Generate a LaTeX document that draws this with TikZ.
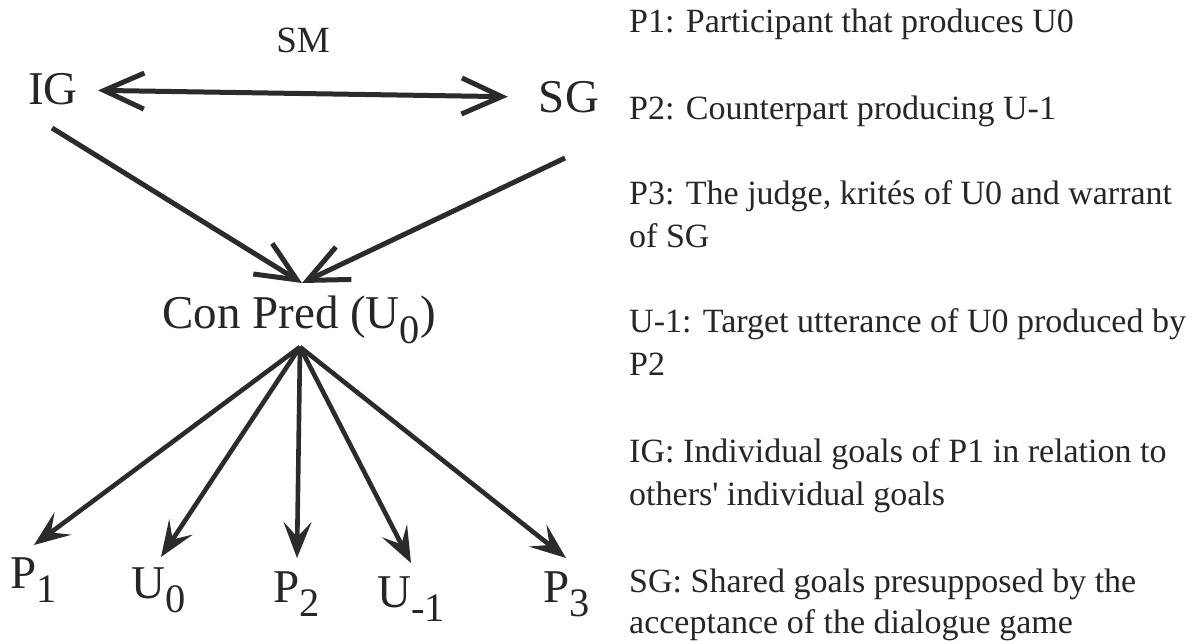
\documentclass[tikz,border=0pt]{standalone}
\usepackage{fontspec}
\usepackage{graphicx}
\setmainfont{Liberation Serif}
\usetikzlibrary{arrows.meta}
\definecolor{ink}{HTML}{262626}
\definecolor{lineink}{HTML}{2B2B2B}
\newcommand{\lowsub}[1]{\raisebox{-0.31em}{\scalebox{0.86}{#1}}}
\begin{document}
\begin{tikzpicture}[x=1pt,y=-1pt,
  lbl/.style={inner sep=0pt, anchor=base, text=ink, font=\fontsize{47}{56}\selectfont},
  smlbl/.style={inner sep=0pt, anchor=base, text=ink, font=\fontsize{37}{44}\selectfont},
  note/.style={inner sep=0pt, anchor=base west, text=ink, font=\fontsize{34}{43}\selectfont},
  upline/.style={draw=lineink, line width=5pt, -{Straight Barb[length=40pt,width=36pt]}},
  dblline/.style={draw=lineink, line width=5pt, {Straight Barb[length=40pt,width=36pt]}-{Straight Barb[length=40pt,width=36pt]}},
  downline/.style={draw=lineink, line width=4.6pt, -{Stealth[length=36pt,width=28pt,inset=15pt]}}
]
\useasboundingbox (0,0) rectangle (1200,644);
\fill[white] (0,0) rectangle (1200,644);

% left diagram labels
\node[smlbl] (SM) at (303,53) {SM};
\node[lbl] (IG) at (53,105) {IG};
\node[lbl] (SG) at (569,113) {SG};
\node[lbl] (con) at (299,329) {Con Pred (U\lowsub{0})};
\node[lbl] (P1) at (34,588) {P\lowsub{1}};
\node[lbl] (U0) at (159,598) {U\lowsub{0}};
\node[lbl] (P2) at (297,602) {P\lowsub{2}};
\node[lbl] (Um1) at (411,607) {U\lowsub{-1}};
\node[lbl] (P3) at (567,602) {P\lowsub{3}};

% connector end points
\coordinate (igout) at (52,128);
\coordinate (sgout) at (565,158);
\coordinate (conin) at (302,283);
\coordinate (conout) at (300,347);
\coordinate (p1in) at (34,545);
\coordinate (u0in) at (161,557);
\coordinate (p2in) at (297,558);
\coordinate (um1in) at (411,563);
\coordinate (p3in) at (566,558);

% connectors
\draw[dblline, shorten <=20pt, shorten >=31pt] (IG) -- (SG);
\draw[upline] (igout) -- (conin);
\draw[upline] (sgout) -- (conin);
\draw[downline] (conout) -- (p1in);
\draw[downline] (conout) -- (u0in);
\draw[downline] (conout) -- (p2in);
\draw[downline] (conout) -- (um1in);
\draw[downline] (conout) -- (p3in);

% legend
\node[note] (n1) at (629,33) {P1: Participant that produces U0};
\node[note] (n2) at (629,120) {P2: Counterpart producing U-1};
\node[note] (n3a) at (629,205) {P3: The judge, krités of U0 and warrant};
\node[note] (n3b) at (629,248) {of SG};
\node[note] (n4a) at (629,333) {U-1: Target utterance of U0 produced by};
\node[note] (n4b) at (629,376) {P2};
\node[note] (n5a) at (629,462) {IG: Individual goals of P1 in relation to};
\node[note] (n5b) at (629,505) {others\textquotesingle{} individual goals};
\node[note] (n6a) at (629,592) {SG: Shared goals presupposed by the};
\node[note] (n6b) at (629,633) {acceptance of the dialogue game};
\end{tikzpicture}
\end{document}
